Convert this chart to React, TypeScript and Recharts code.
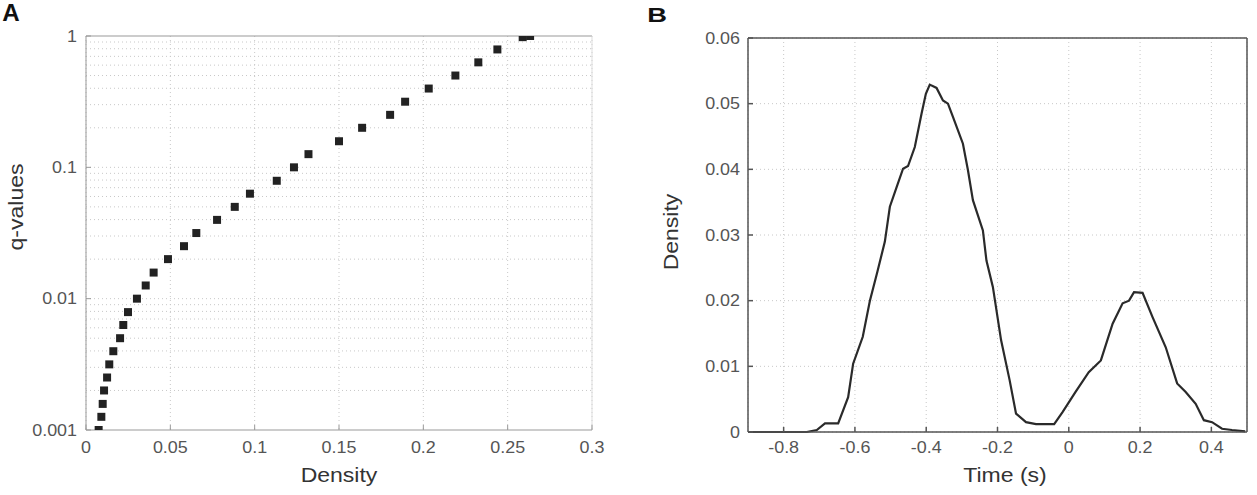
import React from "react";
import {
  ScatterChart,
  Scatter,
  LineChart,
  Line,
  XAxis,
  YAxis,
  ZAxis,
  CartesianGrid,
  ReferenceLine,
} from "recharts";

// Panel A: q-values against density (log y axis)
const densityA = [
  0.0075, 0.0091, 0.0099, 0.0107, 0.0125, 0.0138, 0.0162, 0.0202, 0.0221, 0.0249,
  0.0302, 0.0354, 0.0401, 0.0486, 0.0581, 0.0654, 0.0777, 0.0882, 0.0972, 0.1131,
  0.1233, 0.1319, 0.15, 0.1637, 0.1803, 0.1892, 0.2032, 0.219, 0.2326, 0.2439,
  0.2589, 0.2633,
];
const qValues = [
  0.001, 0.00126, 0.00158, 0.002, 0.00251, 0.00316, 0.00398, 0.005, 0.0063, 0.0079,
  0.01, 0.0126, 0.0158, 0.02, 0.0251, 0.0316, 0.0398, 0.05, 0.063, 0.079,
  0.1, 0.126, 0.158, 0.2, 0.251, 0.316, 0.398, 0.5, 0.63, 0.79,
  0.98, 1,
];
const xTicksA = [0, 0.05, 0.1, 0.15, 0.2, 0.25, 0.3];
const yTicksA = [0.001, 0.01, 0.1, 1];
const gridRowsA = [
  0.002, 0.003, 0.004, 0.005, 0.006, 0.007, 0.008, 0.009, 0.01,
  0.02, 0.03, 0.04, 0.05, 0.06, 0.07, 0.08, 0.09, 0.1,
  0.2, 0.3, 0.4, 0.5, 0.6, 0.7, 0.8, 0.9,
];

// Panel B: density over time
const timeB = [
  -0.9, -0.735, -0.707, -0.684, -0.647, -0.619, -0.605, -0.578, -0.558, -0.537,
  -0.516, -0.502, -0.483, -0.465, -0.451, -0.432, -0.413, -0.401, -0.39, -0.371,
  -0.353, -0.339, -0.325, -0.297, -0.283, -0.269, -0.241, -0.231, -0.213, -0.19,
  -0.166, -0.148, -0.12, -0.092, -0.041, -0.018, 0.019, 0.056, 0.09, 0.123,
  0.151, 0.169, 0.183, 0.207, 0.235, 0.272, 0.304, 0.328, 0.356, 0.379,
  0.402, 0.43, 0.458, 0.495,
];
const densityB = [
  0, 0, 0.0003, 0.0013, 0.0013, 0.0053, 0.0104, 0.0145, 0.02, 0.0244,
  0.029, 0.0343, 0.0373, 0.0401, 0.0405, 0.0434, 0.0485, 0.0515, 0.0529, 0.0524,
  0.0505, 0.05, 0.048, 0.0439, 0.0399, 0.0353, 0.0307, 0.0261, 0.0221, 0.014,
  0.0079, 0.0028, 0.0015, 0.0012, 0.0012, 0.003, 0.0061, 0.0091, 0.0109, 0.0165,
  0.0196, 0.02, 0.0213, 0.0212, 0.0175, 0.0129, 0.0074, 0.0061, 0.0043, 0.0018,
  0.0015, 0.0005, 0.0003, 0.0001,
];
const xTicksB = [-0.8, -0.6, -0.4, -0.2, 0, 0.2, 0.4];
const yTicksB = [0, 0.01, 0.02, 0.03, 0.04, 0.05, 0.06];

const pointsA = densityA.map((x, i) => ({ x, y: qValues[i] }));
const seriesB = timeB.map((t, i) => ({ t, d: densityB[i] }));

const FONT = "'Liberation Sans', Arial, Helvetica, sans-serif";

function TickText(props: any) {
  const { x, y, payload, textAnchor, vertical } = props;
  return (
    <g transform={`translate(${x},${y})`}>
      <text
        transform="scale(1.12,1)"
        textAnchor={textAnchor}
        dy={vertical ? "0.355em" : "0.71em"}
        fill="#555"
        fontSize={16}
        fontFamily={FONT}
      >
        {payload.value}
      </text>
    </g>
  );
}

function Title({ text, x, y, rotate, size = 20, bold = false, stretch = 1.15, color = "#333" }: any) {
  return (
    <div
      style={{
        position: "absolute",
        left: x,
        top: y,
        transform: `translate(-50%,-50%)${rotate ? " rotate(-90deg)" : ""} scaleX(${stretch})`,
        whiteSpace: "nowrap",
        lineHeight: 1,
        fontSize: size,
        fontWeight: bold ? 700 : 400,
        fontFamily: FONT,
        color,
      }}
    >
      {text}
    </div>
  );
}

export default function App() {
  return (
    <div style={{ position: "absolute", left: 0, top: 0, width: 1257, height: 495, background: "#fff", overflow: "hidden" }}>
      <div style={{ position: "absolute", left: 0, top: 0 }}>
        <ScatterChart width={620} height={495} margin={{ top: 36, right: 28, bottom: 0, left: 0 }}>
          <CartesianGrid horizontal={false} stroke="#c8c8c8" strokeDasharray="1 3" />
          {gridRowsA.map((v) => (
            <ReferenceLine key={v} y={v} stroke="#c8c8c8" strokeDasharray="1 3" />
          ))}
          <ReferenceLine y={1} stroke="#999" />
          <ReferenceLine x={0.3} stroke="#ddd" />
          <XAxis
            type="number"
            dataKey="x"
            domain={[0, 0.3]}
            ticks={xTicksA}
            height={65}
            stroke="#999"
            tickSize={-5}
            tickMargin={17}
            tick={<TickText />}
          />
          <YAxis
            type="number"
            dataKey="y"
            scale="log"
            domain={[0.001, 1]}
            ticks={yTicksA}
            width={86}
            stroke="#999"
            tickSize={-5}
            tickMargin={14}
            tick={<TickText vertical />}
            allowDataOverflow
          />
          <ZAxis range={[50, 50]} />
          <Scatter data={pointsA} fill="#222" shape="square" isAnimationActive={false} />
        </ScatterChart>
      </div>

      <div style={{ position: "absolute", left: 640, top: 0 }}>
        <LineChart width={617} height={495} data={seriesB} margin={{ top: 38, right: 10, bottom: 0, left: 0 }}>
          <CartesianGrid stroke="#c8c8c8" strokeDasharray="1 3" />
          <ReferenceLine y={0.06} stroke="#555" strokeWidth={1.5} />
          <ReferenceLine x={0.5} stroke="#555" strokeWidth={1.5} />
          <XAxis
            type="number"
            dataKey="t"
            domain={[-0.9, 0.5]}
            ticks={xTicksB}
            height={63}
            stroke="#555"
            strokeWidth={1.5}
            tickSize={-5}
            tickMargin={15}
            tick={<TickText />}
            allowDataOverflow
          />
          <YAxis
            type="number"
            domain={[0, 0.06]}
            ticks={yTicksB}
            width={108}
            stroke="#555"
            strokeWidth={1.5}
            tickSize={-5}
            tickMargin={13}
            tick={<TickText vertical />}
          />
          <Line type="linear" dataKey="d" stroke="#2a2a2a" strokeWidth={2.2} dot={false} isAnimationActive={false} />
        </LineChart>
      </div>

      <Title text="A" x={11} y={13} size={23} bold stretch={1.05} color="#111" />
      <Title text="B" x={657} y={14} size={21} bold stretch={1.3} color="#111" />
      <Title text="q-values" x={16} y={207} rotate />
      <Title text="Density" x={339} y={475} />
      <Title text="Density" x={671} y={232} rotate />
      <Title text="Time (s)" x={1005} y={475} />
    </div>
  );
}
